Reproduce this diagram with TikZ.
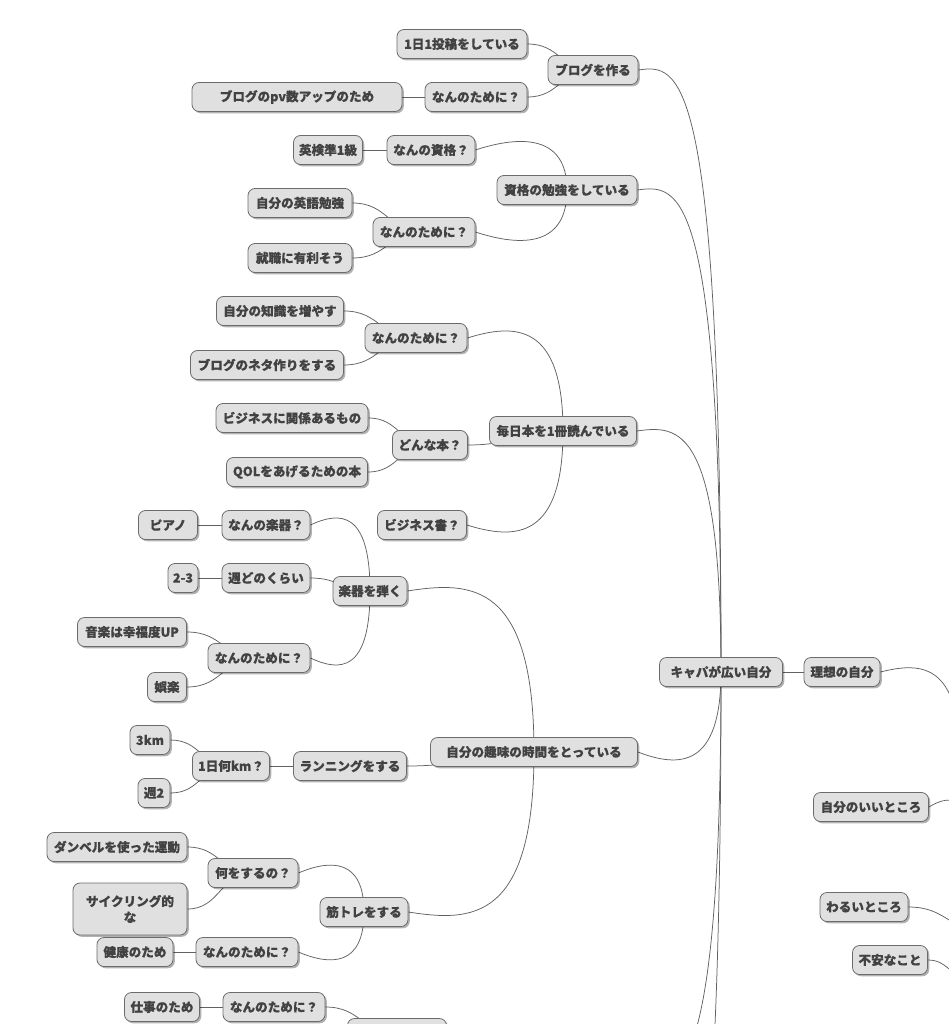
\documentclass[tikz,border=0pt]{standalone}
\usepackage{fontspec}
\setmainfont{Noto Sans CJK JP}[BoldFeatures={FakeBold=0.4}]
\usetikzlibrary{calc,shadows,backgrounds}
\tikzset{
  box/.style={draw=black!58, line width=0.8pt, fill=black!12, rounded corners=7pt,
    minimum height=29pt, inner xsep=3pt, inner ysep=3pt, text=black!74, align=center,
    font=\bfseries\fontsize{12.6}{16}\selectfont,
    drop shadow={shadow xshift=1.8pt, shadow yshift=-1.8pt, fill=black, opacity=0.3}},
  link/.style={draw=black!62, line width=0.75pt},
}
\newcommand\linkS[2]{%
  \path #1 coordinate (ce) #2 coordinate (pc);
  \path ($(ce)!0.5!(pc)$) coordinate (mm);
  \draw[link] (ce) .. controls (mm |- ce) and (mm |- pc) .. (pc);}
\newcommand\linkV[3]{%
  \path #1 coordinate (ce) #2 coordinate (pc);
  \path ($(ce)!0.5!(pc |- ce)$) ++(0,#3) coordinate (ca);
  \path (pc |- ce) ++(0,#3) coordinate (cb);
  \draw[link] (ce) .. controls (ca) and (cb) .. (pc);}
\begin{document}
\begin{tikzpicture}[x=1pt,y=-1pt]
\useasboundingbox (0,0) rectangle (948,1024);
\clip (0,0) rectangle (948,1024);
% level: blog
\node[box, minimum width=90pt]  (n1)   at (593,70)  {ブログを作る};
\node[box, minimum width=130pt] (n1a)  at (462,44)  {1日1投稿をしている};
\node[box, minimum width=102pt] (n1b)  at (476,97)  {なんのために？};
\node[box, minimum width=210pt] (n1b1) at (297,97)  {ブログのpv数アップのため};
% shikaku
\node[box, minimum width=140pt] (n2)   at (567,190) {資格の勉強をしている};
\node[box, minimum width=88pt]  (n2a)  at (431,150) {なんの資格？};
\node[box, minimum width=69pt]  (n2a1) at (328,150) {英検準1級};
\node[box, minimum width=102pt] (n2b)  at (424,232) {なんのために？};
\node[box, minimum width=104pt] (n2b1) at (300,203) {自分の英語勉強};
\node[box, minimum width=104pt] (n2b2) at (300,258) {就職に有利そう};
% books
\node[box, minimum width=147pt] (n3)   at (563,431) {毎日本を1冊読んでいる};
\node[box, minimum width=102pt] (n3a)  at (416,338) {なんのために？};
\node[box, minimum width=127pt] (n3a1) at (280,311) {自分の知識を増やす};
\node[box, minimum width=153pt] (n3a2) at (267,365) {ブログのネタ作りをする};
\node[box, minimum width=75pt]  (n3b)  at (430,445) {どんな本？};
\node[box, minimum width=152pt] (n3b1) at (292,418) {ビジネスに関係あるもの};
\node[box, minimum width=141pt] (n3b2) at (297,472) {QOLをあげるための本};
\node[box, minimum width=89pt]  (n3c)  at (422,525) {ビジネス書？};
% hobby
\node[box, minimum width=207pt] (n4)   at (534,752) {自分の趣味の時間をとっている};
\node[box, minimum width=74pt]  (n4a)  at (370,591) {楽器を弾く};
\node[box, minimum width=88pt]  (n4a1) at (266,525) {なんの楽器？};
\node[box, minimum width=59pt]  (pia)  at (168,525) {ピアノ};
\node[box, minimum width=88pt]  (n4a2) at (266,578) {週どのくらい};
\node[box, minimum width=30pt]  (w23)  at (183,578) {2-3};
\node[box, minimum width=102pt] (n4a3) at (259,658) {なんのために？};
\node[box, minimum width=109pt] (mus)  at (132,632) {音楽は幸福度UP};
\node[box, minimum width=39pt]  (gor)  at (167,687) {娯楽};
\node[box, minimum width=113pt] (n4b)  at (350,766) {ランニングをする};
\node[box, minimum width=77pt]  (km)   at (231,766) {1日何km？};
\node[box, minimum width=40pt]  (k3)   at (150,740) {3km};
\node[box, minimum width=32pt]  (w2)   at (154,793) {週2};
\node[box, minimum width=88pt]  (n4c)  at (364,912) {筋トレをする};
\node[box, minimum width=90pt]  (nani) at (253,873) {何をするの？};
\node[box, minimum width=140pt] (dum)  at (117,847) {ダンベルを使った運動};
\node[box, minimum width=114pt, minimum height=52pt] (cyc) at (130,909) {サイクリング的\\な};
\node[box, minimum width=102pt] (n4c2) at (247,952) {なんのために？};
\node[box, minimum width=76pt]  (ken)  at (135,952) {健康のため};
% bottom (cut off)
\node[box, minimum width=99pt]  (bot)  at (397,1033) {};
\node[box, minimum width=102pt] (bot2) at (274,1007) {なんのために？};
\node[box, minimum width=75pt]  (shi)  at (162,1007) {仕事のため};
% centre and right
\node[box, minimum width=123pt] (capa) at (721,672) {キャパが広い自分};
\node[box, minimum width=76pt]  (riso) at (842,672) {理想の自分};
\node[box, minimum width=115pt] (ii)   at (871,807) {自分のいいところ};
\node[box, minimum width=88pt]  (waru) at (864,907) {わるいところ};
\node[box, minimum width=75pt]  (fuan) at (890,960) {不安なこと};
% free ends outside the frame
\coordinate (down1) at (638,1080);
\coordinate (down2) at (638,1320);
\coordinate (rA) at (960,760);
\coordinate (rB) at (975,880);
\coordinate (rC) at (985,930);
\coordinate (rD) at (968,976);
\begin{pgfonlayer}{background}
\linkS{(n1a.east)}{(n1.center)}
\linkS{(n1b.east)}{(n1.center)}
\linkS{(n1b1.east)}{(n1b.center)}
\linkS{(n2a1.east)}{(n2a.center)}
\linkS{(n2b1.east)}{(n2b.center)}
\linkS{(n2b2.east)}{(n2b.center)}
\linkS{(n3a1.east)}{(n3a.center)}
\linkS{(n3a2.east)}{(n3a.center)}
\linkS{(n3b1.east)}{(n3b.center)}
\linkS{(n3b2.east)}{(n3b.center)}
\linkS{(n3b.east)}{(n3.center)}
\linkS{(pia.east)}{(n4a1.center)}
\linkS{(w23.east)}{(n4a2.center)}
\linkS{(n4a2.east)}{(n4a.center)}
\linkS{(mus.east)}{(n4a3.center)}
\linkS{(gor.east)}{(n4a3.center)}
\linkS{(k3.east)}{(km.center)}
\linkS{(w2.east)}{(km.center)}
\linkS{(km.east)}{(n4b.center)}
\linkS{(n4b.east)}{(n4.center)}
\linkS{(dum.east)}{(nani.center)}
\linkS{(cyc.east)}{(nani.center)}
\linkS{(ken.east)}{(n4c2.center)}
\linkS{(shi.east)}{(bot2.center)}
\linkS{(bot2.east)}{(bot.center)}
\linkS{(capa.east)}{(riso.center)}
\linkS{(waru.east)}{(rC)}
\linkS{(fuan.east)}{(rD)}
\linkV{(n1.east)}{(capa.center)}{-6}
\linkV{(n2.east)}{(capa.center)}{-6}
\linkV{(n3.east)}{(capa.center)}{-6}
\linkV{(n4.east)}{(capa.center)}{16}
\linkV{(down1)}{(capa.center)}{5}
\linkV{(down2)}{(capa.center)}{5}
\linkV{(n2a.east)}{(n2.center)}{-15}
\linkV{(n2b.east)}{(n2.center)}{15}
\linkV{(n3a.east)}{(n3.center)}{-15}
\linkV{(n3c.east)}{(n3.center)}{15}
\linkV{(n4a1.east)}{(n4a.center)}{-14}
\linkV{(n4a3.east)}{(n4a.center)}{14}
\linkV{(n4a.east)}{(n4.center)}{-10}
\linkV{(n4c.east)}{(n4.center)}{10}
\linkV{(nani.east)}{(n4c.center)}{-14}
\linkV{(n4c2.east)}{(n4c.center)}{14}
\linkV{(riso.east)}{(rA)}{-10}
\linkV{(ii.east)}{(rB)}{-14}
\end{pgfonlayer}
\end{tikzpicture}
\end{document}
